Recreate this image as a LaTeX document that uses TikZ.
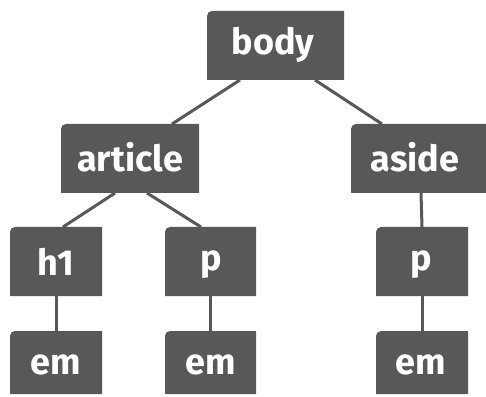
\documentclass[tikz,border=0pt]{standalone}
\usepackage{fontspec}
\setmainfont{Fira Sans}
\usetikzlibrary{fit}
\definecolor{boxgray}{HTML}{585858}
\newcommand\tagbox[5]{% name, x1, Ybottom, x2, Ytop
  \node[fit={(#2,#3)(#4,#5)}, inner sep=0pt, outer sep=0pt] (#1) {};
  \fill[boxgray] (#1.south west) -- ([yshift=-5pt]#1.north west)
    arc[start angle=180, end angle=90, radius=5pt] -- (#1.north east)
    -- (#1.south east) -- cycle;}
\begin{document}
\begin{tikzpicture}[x=1pt,y=1pt,
  lbl/.style={text=white, font=\bfseries\fontsize{36}{36}\selectfont, inner sep=0pt, anchor=base},
  link/.style={draw=boxgray, line width=3pt}]
\useasboundingbox (0,0) rectangle (486,396);
\clip (0,0) rectangle (486,396);
% boxes (Y = 396 - image y)
\tagbox{body}{207}{316}{344}{385}
\tagbox{article}{61}{203}{199}{272}
\tagbox{aside}{351}{203}{500}{272}
\tagbox{hone}{10}{100}{102}{169}
\tagbox{pone}{165}{100}{256}{169}
\tagbox{ptwo}{376}{100}{468}{169}
\tagbox{emone}{10}{2}{102}{65}
\tagbox{emtwo}{165}{2}{256}{65}
\tagbox{emthree}{376}{2}{468}{65}
% labels
\node[lbl] (body-t) at (273,341) {body};
\node[lbl] (article-t) at (130,224) {article};
\node[lbl] (aside-t) at (415,224) {aside};
\node[lbl] (hone-t) at (56,121) {h1};
\node[lbl] (pone-t) at (211,125) {p};
\node[lbl] (ptwo-t) at (421,125) {p};
\node[lbl] (emone-t) at (56,22) {em};
\node[lbl] (emtwo-t) at (211,22) {em};
\node[lbl] (emthree-t) at (421,22) {em};
% connectors
\draw[link] ([xshift=33pt]body.south west) -- ([xshift=111pt]article.north west);
\draw[link] ([xshift=108pt]body.south west) -- ([xshift=31pt]aside.north west);
\draw[link] ([xshift=54pt]article.south west) -- ([xshift=53pt]hone.north west);
\draw[link] ([xshift=86pt]article.south west) -- ([xshift=36pt]pone.north west);
\draw[link] (hone.south) -- (emone.north);
\draw[link] (pone.south) -- (emtwo.north);
\draw[link] ([xshift=70pt]aside.south west) -- (ptwo.north);
\draw[link] (ptwo.south) -- (emthree.north);
\end{tikzpicture}
\end{document}
